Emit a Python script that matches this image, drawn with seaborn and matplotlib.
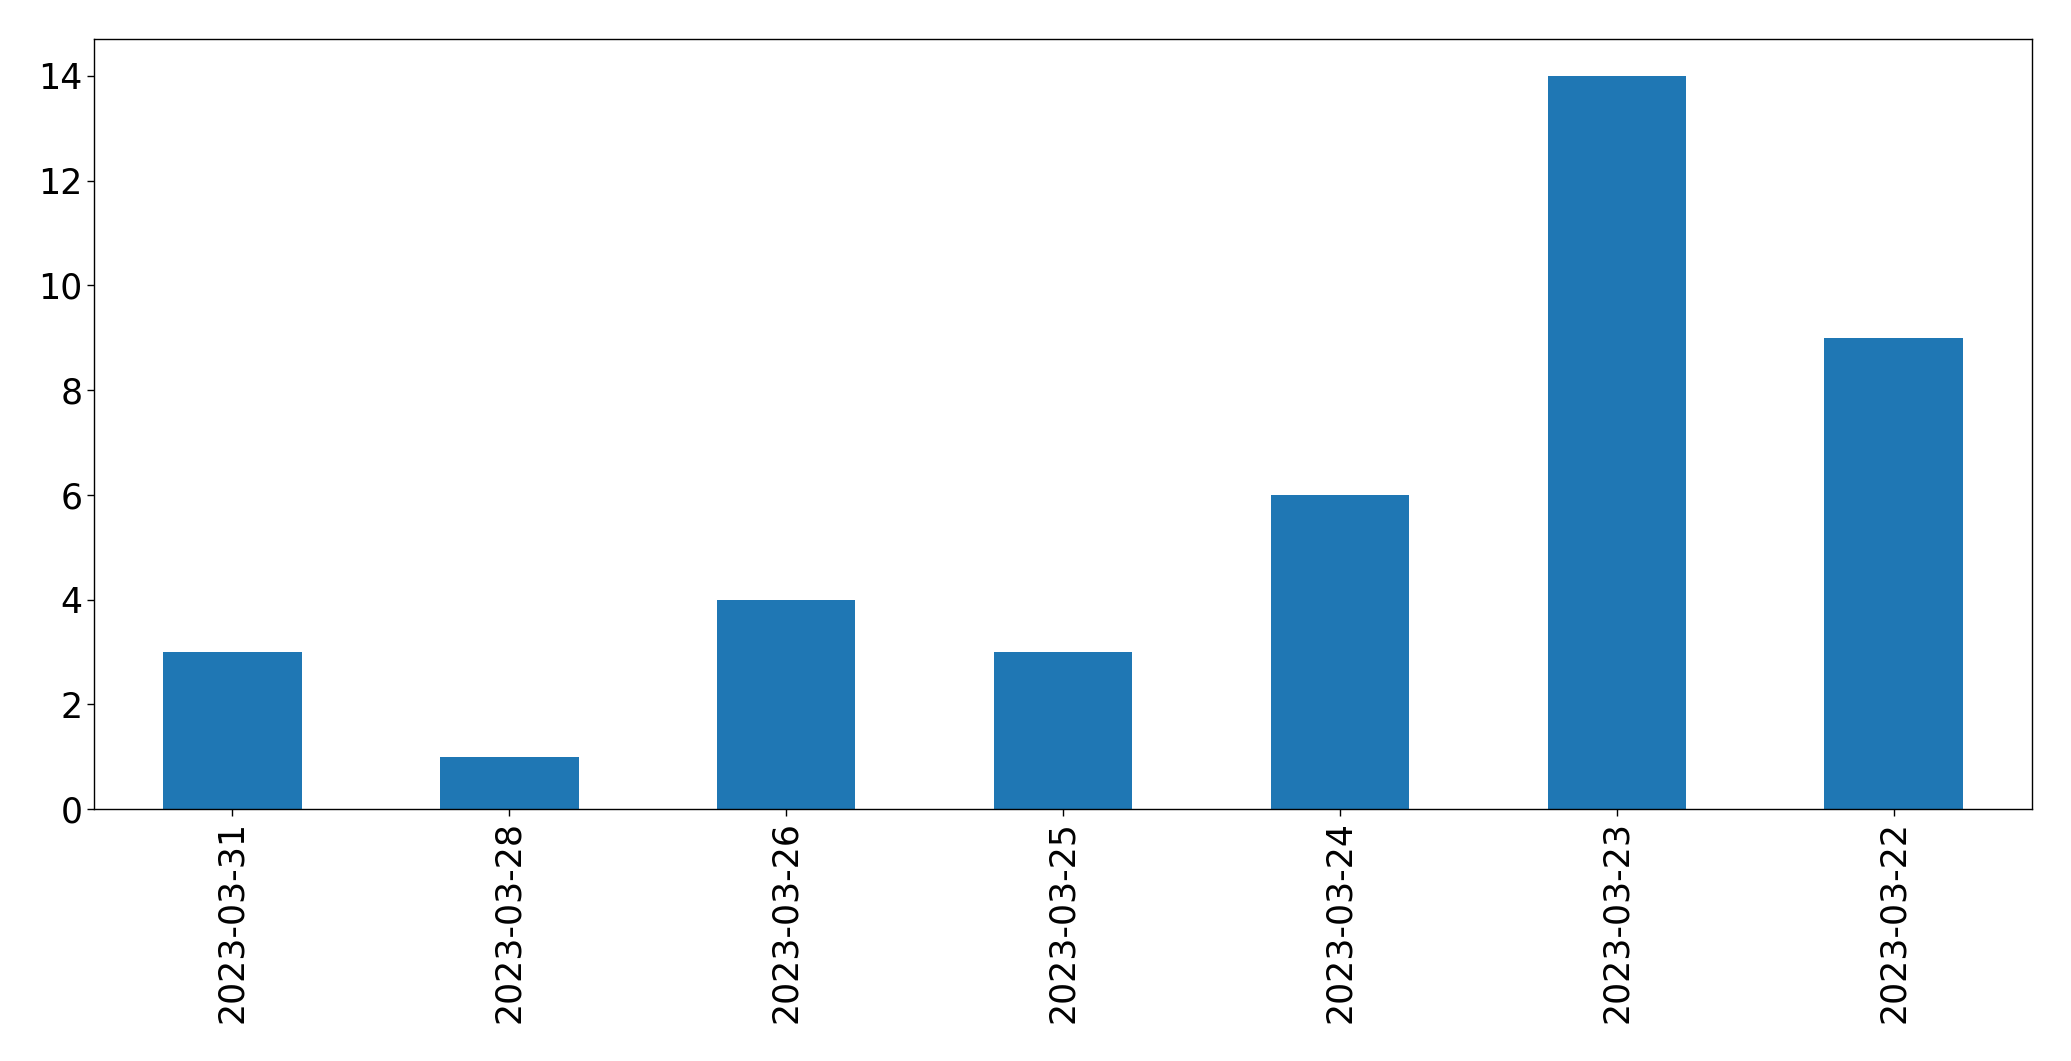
import matplotlib
matplotlib.use("Agg")
import matplotlib.pyplot as plt
import seaborn as sns
import pandas as pd

dates = ["2023-03-31", "2023-03-28", "2023-03-26", "2023-03-25",
         "2023-03-24", "2023-03-23", "2023-03-22"]
counts = [3, 1, 4, 3, 6, 14, 9]

sns.set_style("white")
plt.rcParams["font.family"] = ["DejaVu Sans"]
plt.rcParams["text.color"] = "black"
plt.rcParams["xtick.color"] = "black"
plt.rcParams["ytick.color"] = "black"
plt.rcParams["axes.labelcolor"] = "black"

df = pd.DataFrame({"date": dates, "count": counts})

fig, ax = plt.subplots(figsize=(20.71, 10.61), dpi=100)
fig.subplots_adjust(left=0.0454, right=0.9812, top=0.963, bottom=0.2375)

sns.barplot(data=df, x="date", y="count", color="#1f77b4", saturation=1,
            width=0.5, order=dates, ax=ax, linewidth=0)

ax.set_xlim(-0.5, len(dates) - 0.5)
ax.set_ylim(0, max(counts) * 1.05)
ax.set_xlabel("")
ax.set_ylabel("")
ax.tick_params(axis="both", labelsize=25, length=4.9, width=1, direction="out",
               bottom=True, left=True, color="black", labelcolor="black")
ax.tick_params(axis="x", labelrotation=90)
for s in ax.spines.values():
    s.set_visible(True)
    s.set_color("black")
    s.set_linewidth(1)

fig.savefig("out.png", dpi=100)
